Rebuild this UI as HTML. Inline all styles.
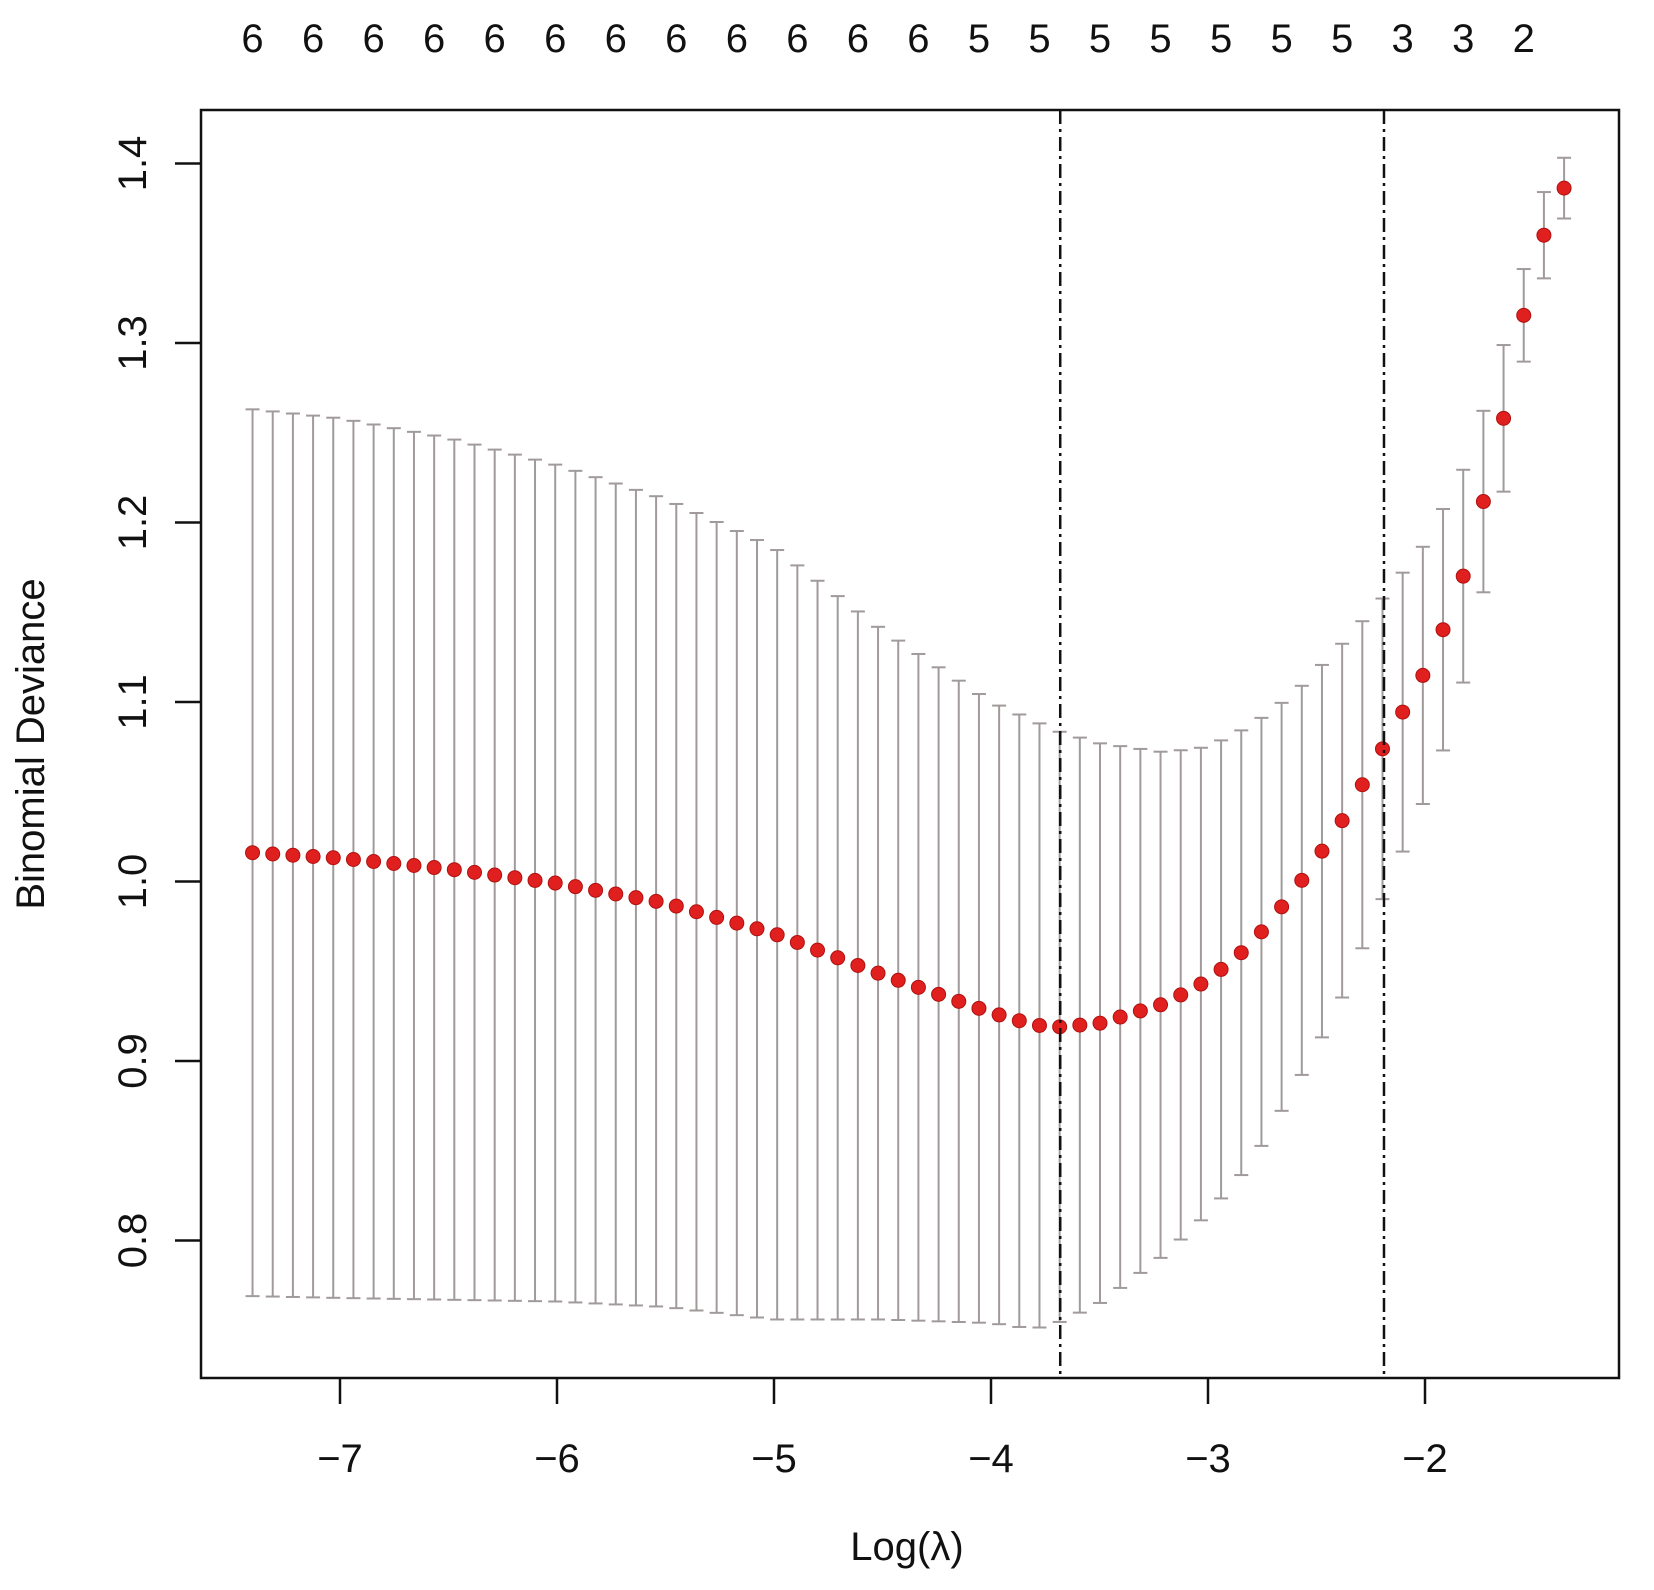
<!DOCTYPE html>
<html><head><meta charset="utf-8"><style>html,body{margin:0;padding:0;background:#fff}</style></head>
<body>
<svg id="s" width="1654" height="1585" xmlns="http://www.w3.org/2000/svg" font-family="Liberation Sans, sans-serif"></svg>
<script>
const s=document.getElementById('s');
const X=l=>1425+(l+2)*217, Y=v=>163.5+(1.4-v)*1795;
function interp(t,l){for(let i=0;i<t.length-1;i++){if(l<=t[i+1][0]||i==t.length-2){const[a,b]=t[i],[c,d]=t[i+1];return b+(d-b)*(l-a)/(c-a);}}}
const M=[[-7.4,1.016],[-7,1.013],[-6.5,1.007],[-6,0.999],[-5.5,0.988],[-5,0.971],[-4.5,0.948],[-4,0.927],[-3.8,0.920],[-3.68,0.919],[-3.5,0.921],[-3.2,0.932],[-3,0.945],[-2.8,0.965],[-2.6,0.995],[-2.4,1.03],[-2.2,1.073],[-2,1.117],[-1.9,1.145],[-1.8,1.178],[-1.72,1.217],[-1.63,1.262],[-1.55,1.313],[-1.45,1.361],[-1.36,1.386]];
const U=[[-7.4,1.263],[-7,1.258],[-6.5,1.247],[-6,1.232],[-5.5,1.213],[-5,1.186],[-4.5,1.14],[-4,1.10],[-3.7,1.084],[-3.5,1.077],[-3.2,1.072],[-3,1.075],[-2.8,1.087],[-2.6,1.105],[-2.4,1.13],[-2.2,1.157],[-2,1.188],[-1.8,1.235],[-1.63,1.302],[-1.45,1.385],[-1.36,1.403]];
let h='';
const n=66,l0=-7.403,l1=-1.359,st=(l1-l0)/(n-1);
let bars='',pts='';
for(let i=0;i<n;i++){const l=l0+i*st,m=interp(M,l),u=interp(U,l),lo=2*m-u,x=X(l);
bars+=`<line x1="${x}" y1="${Y(u)}" x2="${x}" y2="${Y(lo)}"/><line x1="${x-7}" y1="${Y(u)}" x2="${x+7}" y2="${Y(u)}"/><line x1="${x-7}" y1="${Y(lo)}" x2="${x+7}" y2="${Y(lo)}"/>`;
pts+=`<circle cx="${x}" cy="${Y(m)}" r="7"/>`;}
h+=`<g stroke="#a09a9a" stroke-width="2">${bars}</g><g fill="#e0201e" stroke="#b01010" stroke-width="1">${pts}</g>`;
for(const l of [-3.681,-2.189])h+=`<line x1="${X(l)}" y1="110" x2="${X(l)}" y2="1378" stroke="#111" stroke-width="2.5" stroke-dasharray="14,5,3,5"/>`;
h+=`<rect x="201" y="110" width="1418" height="1268" fill="none" stroke="#111" stroke-width="2.5"/>`;
for(let k=-7;k<=-2;k++){const x=X(k);h+=`<line x1="${x}" y1="1378" x2="${x}" y2="1404" stroke="#111" stroke-width="2.5"/><text x="${x}" y="1472" font-size="40" text-anchor="middle" fill="#111">\u2212${-k}</text>`;}
for(let v=8;v<=14;v++){const y=Y(v/10);h+=`<line x1="175" y1="${y}" x2="201" y2="${y}" stroke="#111" stroke-width="2.5"/><text transform="translate(146,${y}) rotate(-90)" font-size="40" text-anchor="middle" fill="#111">${(v/10).toFixed(1)}</text>`;}
const labs=[6,6,6,6,6,6,6,6,6,6,6,6,5,5,5,5,5,5,5,3,3,2];
labs.forEach((v,i)=>{const x=X(l0+i*3*st);h+=`<text x="${x}" y="52" font-size="40" text-anchor="middle" fill="#111">${v}</text>`;});
h+=`<text transform="translate(44,744) rotate(-90)" font-size="40" text-anchor="middle" fill="#111">Binomial Deviance</text>`;
h+=`<text x="907" y="1560" font-size="40" text-anchor="middle" fill="#111">Log(λ)</text>`;
s.innerHTML=h;
</script>
</body></html>
